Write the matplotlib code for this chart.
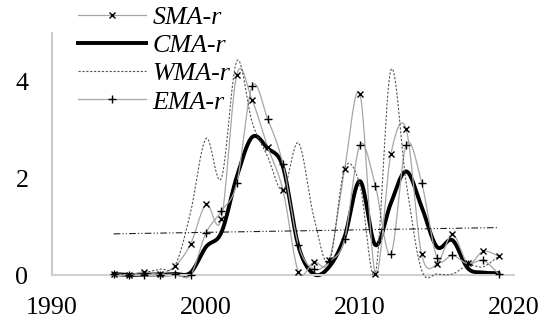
import numpy as np
import matplotlib
matplotlib.use("Agg")
import matplotlib.pyplot as plt
from matplotlib.lines import Line2D

years = list(range(1994, 2020))
sma = [0.02, 0.00, 0.07, 0.02, 0.19, 0.64, 1.46, 1.16, 4.14, 3.61, 2.65, 1.75, 0.07,
       0.27, 0.30, 2.19, 3.73, 0.03, 2.49, 3.01, 0.43, 0.23, 0.84, 0.24, 0.49, 0.39]
cma = [0.02, 0.00, 0.01, 0.01, 0.02, 0.05, 0.58, 0.88, 2.03, 2.85, 2.62, 2.23, 0.60,
       0.02, 0.17, 0.79, 1.94, 0.62, 1.48, 2.14, 1.41, 0.58, 0.72, 0.14, 0.05, 0.04]
wma = [0.02, 0.00, 0.05, 0.12, 0.20, 1.30, 2.82, 2.00, 4.42, 3.15, 2.45, 1.75, 2.73,
       1.20, 0.27, 2.20, 1.85, 0.03, 4.23, 1.90, 0.10, 0.02, 0.02, 0.20, 0.17, 0.39]
ema = [0.02, 0.00, 0.01, 0.00, 0.02, 0.00, 0.87, 1.32, 1.90, 3.90, 3.23, 2.29, 0.62,
       0.12, 0.28, 0.74, 2.69, 1.84, 0.43, 2.69, 1.91, 0.36, 0.41, 0.23, 0.30, 0.02]
trend_years = [1994, 2019]
trend_vals = [0.85, 0.98]
series_names = ["SMA-r", "CMA-r", "WMA-r", "EMA-r"]
x_ticks = [1990, 2000, 2010, 2020]
y_ticks = [0, 2, 4]


def smooth(xs, ys, n=30):
    xs = np.asarray(xs, float)
    ys = np.asarray(ys, float)
    P = np.column_stack([xs, ys])
    m = len(P)
    out = []
    for i in range(m - 1):
        p0 = P[i - 1] if i > 0 else P[i]
        p1 = P[i]
        p2 = P[i + 1]
        p3 = P[i + 2] if i + 2 < m else P[i + 1]
        b1 = p1 + (p2 - p0) / 6.0
        b2 = p2 - (p3 - p1) / 6.0
        t = np.linspace(0, 1, n, endpoint=(i == m - 2))[:, None]
        seg = ((1 - t) ** 3) * p1 + 3 * ((1 - t) ** 2) * t * b1 + 3 * (1 - t) * t ** 2 * b2 + t ** 3 * p2
        out.append(seg)
    out = np.vstack(out)
    return out[:, 0], out[:, 1]


plt.rcParams['font.family'] = ['Liberation Serif', 'DejaVu Serif']
fig = plt.figure(figsize=(5.49, 3.24), dpi=100)
ax = fig.add_axes([52 / 549, 1 - 275 / 324, (514 - 52) / 549, (275 - 33) / 324])

grey = '#a6a6a6'
fs = 18.7

sx, sy = smooth(years, sma)
ax.plot(sx, sy, color=grey, lw=0.9, zorder=3, clip_on=False)
ax.plot(years, sma, ls='none', marker='x', ms=3.8, mew=1.0, color='black', zorder=6, clip_on=False)

cx, cy = smooth(years, cma)
ax.plot(cx, cy, color='black', lw=2.8, zorder=2, clip_on=False, solid_capstyle='round')

wx, wy = smooth(years, wma)
ax.plot(wx, wy, color='#555555', lw=0.8, ls=(0, (2.0, 1.5)), zorder=4, clip_on=False)

ex, ey = smooth(years, ema)
ax.plot(ex, ey, color=grey, lw=0.9, zorder=3, clip_on=False)
ax.plot(years, ema, ls='none', marker='+', ms=5.5, mew=1.0, color='black', zorder=6, clip_on=False)

ax.plot(trend_years, trend_vals, color='#222222', lw=0.8, ls=(0, (6, 2, 1, 2, 1, 2)), zorder=5)

ax.set_xlim(1990, 2020)
ax.set_ylim(0, 5)
ax.set_xticks(x_ticks)
ax.set_yticks(y_ticks)
ax.tick_params(axis='both', length=0, labelsize=fs)
ax.tick_params(axis='x', pad=16)
ax.tick_params(axis='y', pad=17)
for s in ['top', 'right']:
    ax.spines[s].set_visible(False)
ax.spines['left'].set_color('#bfbfbf')
ax.spines['left'].set_linewidth(1.2)
ax.spines['bottom'].set_color('#d0d0d0')
ax.spines['bottom'].set_linewidth(1.5)
ax.patch.set_visible(False)

handles = [
    Line2D([], [], color=grey, lw=0.9, marker='x', ms=3.8, mew=1.0, mec='black', mfc='black'),
    Line2D([], [], color='black', lw=2.8),
    Line2D([], [], color='#555555', lw=0.8, ls=(0, (2.0, 1.5))),
    Line2D([], [], color=grey, lw=0.9, marker='+', ms=5.5, mew=1.0, mec='black', mfc='black'),
]
leg = fig.legend(handles, series_names, loc='upper left',
                 bbox_to_anchor=(78 / 549, 1 - 6 / 324), bbox_transform=fig.transFigure,
                 frameon=False, borderpad=0, borderaxespad=0, handlelength=2.6,
                 handletextpad=0.27, labelspacing=0.19, numpoints=1,
                 prop={'family': 'Liberation Serif', 'style': 'italic', 'size': fs})
leg.set_zorder(10)

fig.savefig('out.png', dpi=100)
